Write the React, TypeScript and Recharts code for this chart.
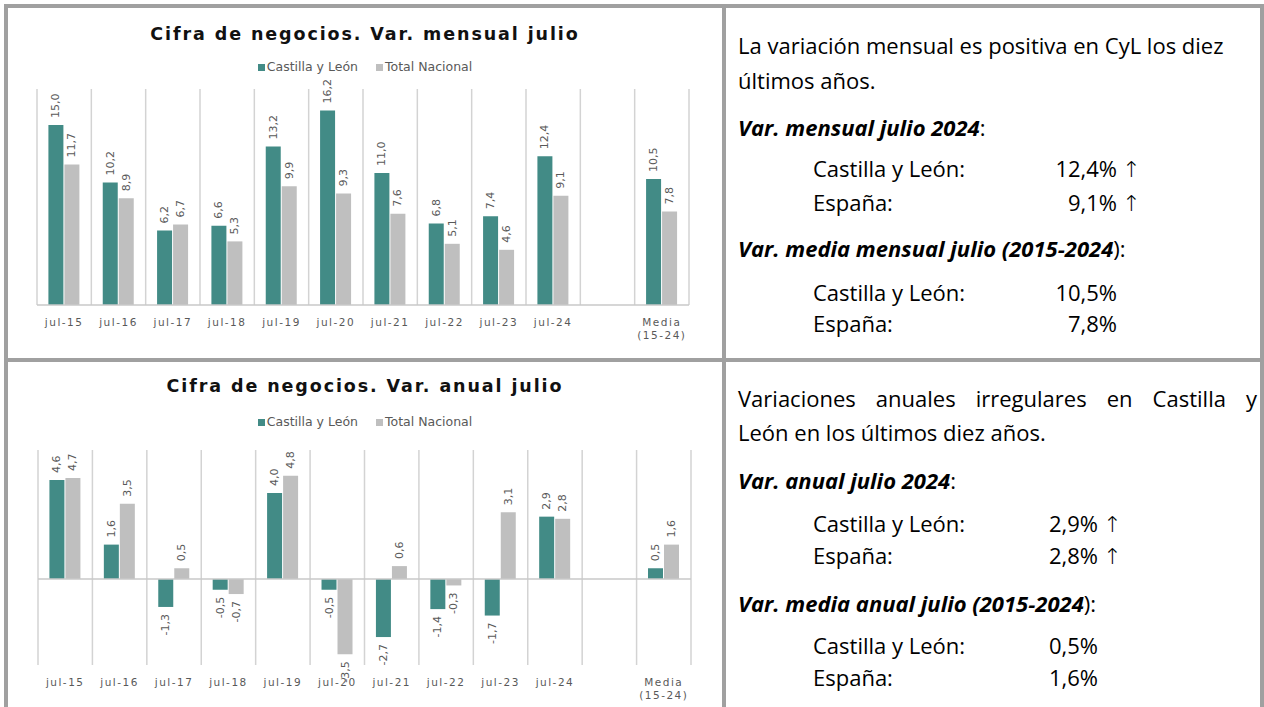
import React from 'react';
import { BarChart, Bar, XAxis, YAxis, CartesianGrid, ReferenceLine, LabelList } from 'recharts';

const categories = ['jul-15', 'jul-16', 'jul-17', 'jul-18', 'jul-19', 'jul-20', 'jul-21', 'jul-22', 'jul-23', 'jul-24', '', 'Media (15-24)'];
const mensualCyL = [15.0, 10.2, 6.2, 6.6, 13.2, 16.2, 11.0, 6.8, 7.4, 12.4, null, 10.5];
const mensualNacional = [11.7, 8.9, 6.7, 5.3, 9.9, 9.3, 7.6, 5.1, 4.6, 9.1, null, 7.8];
const anualCyL = [4.6, 1.6, -1.3, -0.5, 4.0, -0.5, -2.7, -1.4, -1.7, 2.9, null, 0.5];
const anualNacional = [4.7, 3.5, 0.5, -0.7, 4.8, -3.5, 0.6, -0.3, 3.1, 2.8, null, 1.6];

const TEAL = '#428b86';
const GREY = '#bfbfbf';
const BORDER = '#a0a0a0';
const CHART_FONT = '"DejaVu Sans", sans-serif';
const TEXT_FONT = '"Open Sans", "Noto Sans", sans-serif';

const mensualData = categories.map((c, i) => ({ name: c, cyl: mensualCyL[i], nac: mensualNacional[i] }));
const anualData = categories.map((c, i) => ({ name: c, cyl: anualCyL[i], nac: anualNacional[i] }));

const fmt = (v: number) => v.toFixed(1).replace('.', ',');

// label rotada encima (o debajo si es negativo) de cada barra
function RotLabel(props: any) {
  const { x, y, width, height, value } = props;
  if (value === null || value === undefined) return null;
  const cx = x + width / 2;
  const top = Math.min(y, y + height);
  const bottom = Math.max(y, y + height);
  const neg = value < 0;
  const ly = neg ? bottom + 7 : top - 7;
  return (
    <text
      x={cx}
      y={ly}
      transform={`rotate(-90, ${cx}, ${ly})`}
      textAnchor={neg ? 'end' : 'start'}
      dominantBaseline="central"
      fontSize={11}
      fill="#595959"
      fontFamily={CHART_FONT}
    >
      {fmt(value)}
    </text>
  );
}

function CatTick(props: any) {
  const { x, y, payload } = props;
  const parts = String(payload.value).split(' ');
  return (
    <text x={x} y={y + 13} textAnchor="middle" fontSize={10.5} letterSpacing={1.5} fill="#595959" fontFamily={CHART_FONT}>
      {parts.map((p, i) => (
        <tspan key={i} x={x} dy={i === 0 ? 0 : 13}>{p}</tspan>
      ))}
    </text>
  );
}

// separadores entre categorías
const boundaries = (n: number, fallbackLeft: number, fallbackWidth: number) => (p: any) => {
  const left = p?.offset?.left ?? fallbackLeft;
  const w = p?.offset?.width ?? fallbackWidth;
  const out: number[] = [];
  for (let i = 0; i <= n; i++) out.push(left + (i * w) / n);
  return out;
};

function Header({ title, titleY, legendY }: { title: string; titleY: number; legendY: number }) {
  return (
    <>
      <div style={{ position: 'absolute', left: 0, width: 714, top: titleY - 12, lineHeight: '24px', textAlign: 'center', fontFamily: CHART_FONT, fontWeight: 'bold', fontSize: 17.5, letterSpacing: 1.9, color: '#111' }}>
        {title}
      </div>
      <div style={{ position: 'absolute', left: 0, width: 714, top: legendY - 8, lineHeight: '16px', display: 'flex', justifyContent: 'center', gap: 18, fontFamily: CHART_FONT, fontSize: 12.5, color: '#595959' }}>
        <span style={{ display: 'flex', alignItems: 'center', gap: 2 }}>
          <span style={{ width: 7, height: 7, background: TEAL, display: 'inline-block' }} />Castilla y León
        </span>
        <span style={{ display: 'flex', alignItems: 'center', gap: 2 }}>
          <span style={{ width: 7, height: 7, background: GREY, display: 'inline-block' }} />Total Nacional
        </span>
      </div>
    </>
  );
}

function MensualChart() {
  const margin = { top: 81, right: 33, left: 29, bottom: 13 };
  return (
    <div style={{ position: 'absolute', left: 8, top: 8, width: 714, height: 350 }}>
      <Header title="Cifra de negocios. Var. mensual julio" titleY={26} legendY={59} />
      <BarChart width={714} height={350} data={mensualData} margin={margin} barCategoryGap="21%" barGap={1}>
        <CartesianGrid horizontal={false} stroke="#d3d3d3" strokeWidth={1.5}
          verticalCoordinatesGenerator={boundaries(categories.length, margin.left, 714 - margin.left - margin.right)} />
        <XAxis dataKey="name" height={40} tickLine={false} axisLine={{ stroke: '#c8c8c8', strokeWidth: 1.5 }} tick={<CatTick />} interval={0} />
        <YAxis hide domain={[0, 18]} />
        <Bar dataKey="cyl" fill={TEAL} isAnimationActive={false}>
          <LabelList dataKey="cyl" content={<RotLabel />} />
        </Bar>
        <Bar dataKey="nac" fill={GREY} isAnimationActive={false}>
          <LabelList dataKey="nac" content={<RotLabel />} />
        </Bar>
      </BarChart>
    </div>
  );
}

function AnualChart() {
  const margin = { top: 88, right: 31, left: 30, bottom: 12 };
  return (
    <div style={{ position: 'absolute', left: 8, top: 362, width: 714, height: 345 }}>
      <Header title="Cifra de negocios. Var. anual julio" titleY={24} legendY={60} />
      <BarChart width={714} height={345} data={anualData} margin={margin} barCategoryGap="21%" barGap={1}>
        <CartesianGrid horizontal={false} stroke="#d3d3d3" strokeWidth={1.5}
          verticalCoordinatesGenerator={boundaries(categories.length, margin.left, 714 - margin.left - margin.right)} />
        <XAxis dataKey="name" height={30} tickLine={false} axisLine={false} tick={<CatTick />} interval={0} />
        <YAxis hide domain={[-4, 6]} />
        <ReferenceLine y={0} stroke="#c8c8c8" strokeWidth={1.5} />
        <Bar dataKey="cyl" fill={TEAL} isAnimationActive={false}>
          <LabelList dataKey="cyl" content={<RotLabel />} />
        </Bar>
        <Bar dataKey="nac" fill={GREY} isAnimationActive={false}>
          <LabelList dataKey="nac" content={<RotLabel />} />
        </Bar>
      </BarChart>
    </div>
  );
}

const lineStyle = (cy: number): React.CSSProperties => ({
  position: 'absolute', top: cy - 15, lineHeight: '30px', fontFamily: TEXT_FONT, fontSize: 22, color: '#000', whiteSpace: 'nowrap',
});

function ValueRow({ cy, label, value, right, arrow }: { cy: number; label: string; value: string; right: number; arrow: boolean }) {
  return (
    <>
      <div style={{ ...lineStyle(cy), left: 813 }}>{label}</div>
      <div style={{ ...lineStyle(cy), left: right - 120, width: 120, textAlign: 'right' }}>{value}</div>
      {arrow && <div style={{ ...lineStyle(cy + 2), left: right + 5, fontFamily: CHART_FONT, fontSize: 22, fontWeight: 200 }}>↑</div>}
    </>
  );
}

function Heading({ cy, bold, tail }: { cy: number; bold: React.ReactNode; tail: string }) {
  return (
    <div style={{ ...lineStyle(cy), left: 738 }}>
      <span style={{ fontWeight: 'bold', fontStyle: 'italic' }}>{bold}</span>{tail}
    </div>
  );
}

function TextPanels() {
  return (
    <>
      <div style={{ ...lineStyle(45), left: 738 }}>La variación mensual es positiva en CyL los diez</div>
      <div style={{ ...lineStyle(80), left: 738 }}>últimos años.</div>
      <Heading cy={127} bold="Var. mensual julio 2024" tail=":" />
      <ValueRow cy={168} label="Castilla y León:" value="12,4%" right={1117} arrow />
      <ValueRow cy={202} label="España:" value="9,1%" right={1117} arrow />
      <Heading cy={248} bold="Var. media mensual julio (2015-2024" tail="):" />
      <ValueRow cy={292} label="Castilla y León:" value="10,5%" right={1117} arrow={false} />
      <ValueRow cy={323} label="España:" value="7,8%" right={1117} arrow={false} />

      <div style={{ ...lineStyle(398), left: 738, width: 519, textAlign: 'justify', textAlignLast: 'justify' }}>
        Variaciones anuales irregulares en Castilla y
      </div>
      <div style={{ ...lineStyle(432), left: 738 }}>León en los últimos diez años.</div>
      <Heading cy={480} bold="Var. anual julio 2024" tail=":" />
      <ValueRow cy={523} label="Castilla y León:" value="2,9%" right={1098} arrow />
      <ValueRow cy={555} label="España:" value="2,8%" right={1098} arrow />
      <Heading cy={603} bold="Var. media anual julio (2015-2024" tail="):" />
      <ValueRow cy={645} label="Castilla y León:" value="0,5%" right={1098} arrow={false} />
      <ValueRow cy={677} label="España:" value="1,6%" right={1098} arrow={false} />
    </>
  );
}

export default function App() {
  const b = (s: React.CSSProperties) => <div style={{ position: 'absolute', background: BORDER, ...s }} />;
  return (
    <div style={{ position: 'absolute', left: 0, top: 0, width: 1264, height: 707, background: '#fff', overflow: 'hidden' }}>
      <MensualChart />
      <AnualChart />
      <TextPanels />
      {b({ left: 4, top: 4, width: 1260, height: 4 })}
      {b({ left: 4, top: 4, width: 4, height: 703 })}
      {b({ left: 722, top: 4, width: 4, height: 703 })}
      {b({ left: 4, top: 358, width: 1260, height: 4 })}
      {b({ left: 1260, top: 4, width: 4, height: 703 })}
    </div>
  );
}
